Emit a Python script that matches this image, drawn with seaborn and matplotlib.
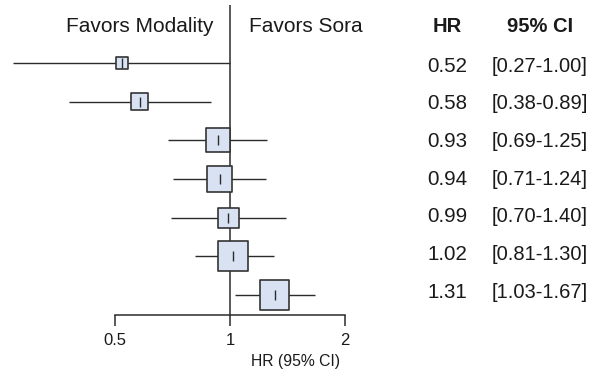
import numpy as np
import pandas as pd
import matplotlib
matplotlib.use("Agg")
import matplotlib.pyplot as plt
import seaborn as sns

# Hazard ratios with 95% confidence limits, one row per estimate
hr = [0.52, 0.58, 0.93, 0.94, 0.99, 1.02, 1.31]
ci_low = [0.27, 0.38, 0.69, 0.71, 0.70, 0.81, 1.03]
ci_high = [1.00, 0.89, 1.25, 1.24, 1.40, 1.30, 1.67]
x_ticks = [0.5, 1, 2]
x_tick_labels = ["0.5", "1", "2"]

W, H, DPI = 591, 369, 100
sns.set_theme(style="white")
plt.rcParams["font.family"] = ["Liberation Sans", "DejaVu Sans"]

df = pd.DataFrame({"row": np.arange(len(hr)), "hr": hr, "lo": ci_low, "hi": ci_high})
# Box area proportional to inverse variance of the log hazard ratio,
# with a minimum box size so small boxes stay visible
se = np.log(df["hi"] / df["lo"]) / (2 * 1.96)
side_px = np.maximum(3.6 / se, 12)
df["area"] = (side_px * 72 / DPI) ** 2

fig = plt.figure(figsize=(W / DPI, H / DPI), dpi=DPI)
base_px = 315
ax = fig.add_axes([0, (H - base_px) / H, 1, base_px / H])

px_per_doubling = 115
x_left = 2 ** ((0 - 230) / px_per_doubling)
x_right = 2 ** ((W - 230) / px_per_doubling)
ax.set_xscale("log", base=2)
ax.set_xlim(x_left, x_right)
row0_px, row_step = 63, 38.67
ax.set_ylim((base_px - row0_px) / row_step, (0 - row0_px) / row_step)

line_col = "#2b2b2b"
# Line of no effect
ax.vlines(1, (5 - row0_px) / row_step, (base_px - row0_px) / row_step,
          color=line_col, lw=1.1, zorder=1)
# Confidence intervals
ax.hlines(df["row"], df["lo"], df["hi"], color=line_col, lw=1.0, zorder=2)
# Boxes
sns.scatterplot(data=df, x="hr", y="row", size="area",
                sizes={a: a for a in df["area"]}, marker="s",
                color="#d9e2f3", edgecolor="#333333", linewidth=1.2,
                legend=False, ax=ax, zorder=3)
# Point estimate tick
tick_half = 5 / row_step
ax.vlines(df["hr"], df["row"] - tick_half, df["row"] + tick_half,
          color=line_col, lw=1.0, zorder=4)

# Axis
for side in ["top", "left", "right"]:
    ax.spines[side].set_visible(False)
ax.spines["bottom"].set_bounds(x_ticks[0], x_ticks[-1])
ax.spines["bottom"].set_color(line_col)
ax.spines["bottom"].set_linewidth(1.1)
ax.set_xticks(x_ticks)
ax.set_xticklabels(x_tick_labels, fontsize=12)
ax.xaxis.set_minor_locator(matplotlib.ticker.NullLocator())
ax.tick_params(axis="x", bottom=True, direction="out", length=8, width=1.1,
               color=line_col, pad=5, labelcolor="#1a1a1a")
ax.set_yticks([])
ax.set_xlabel("HR (95% CI)", fontsize=11.3, labelpad=4, color="#1a1a1a")
ax.set_ylabel("")
ax.patch.set_alpha(0)

txt_col = "#1a1a1a"
yt = ax.get_yaxis_transform()
head_y = (26 - row0_px) / row_step
ax.text(213 / W, head_y, "Favors Modality", transform=yt,
        ha="right", va="center", fontsize=15, color=txt_col)
ax.text(249 / W, head_y, "Favors Sora", transform=yt,
        ha="left", va="center", fontsize=15, color=txt_col)
ax.text(447 / W, head_y, "HR", transform=yt,
        ha="center", va="center", fontsize=14.5, fontweight="bold", color=txt_col)
ax.text(540 / W, head_y, "95% CI", transform=yt,
        ha="center", va="center", fontsize=14.5, fontweight="bold", color=txt_col)
# Table rows sit on a slightly tighter pitch than the plotted rows
text_row0_px, text_step_px = 66, 37.7
for r, h, lo, hi in zip(df["row"], hr, ci_low, ci_high):
    ty = (text_row0_px + text_step_px * r - row0_px) / row_step
    ax.text(447 / W, ty, f"{h:.2f}", transform=yt,
            ha="center", va="center", fontsize=14.8, color=txt_col)
    ax.text(540 / W, ty, f"[{lo:.2f}-{hi:.2f}]", transform=yt,
            ha="center", va="center", fontsize=14.5, color=txt_col)

fig.savefig("out.png", dpi=DPI)
